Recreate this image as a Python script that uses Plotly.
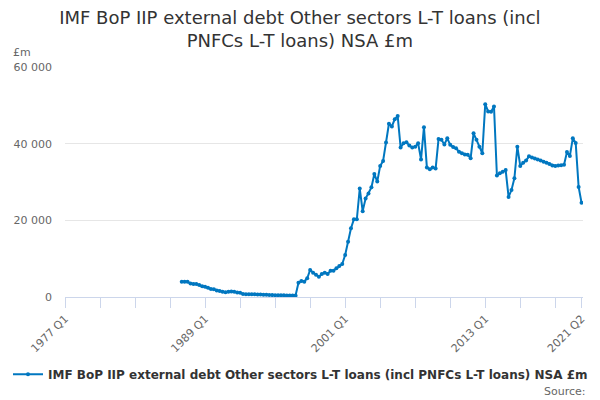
import plotly.graph_objects as go

# quarterly categories 1977 Q1 .. 2021 Q2
quarters = []
for yr in range(1977, 2022):
    for q in range(1, 5):
        quarters.append(f"{yr} Q{q}")
quarters = quarters[:quarters.index("2021 Q2") + 1]

first_quarter = "1987 Q1"

# £m, 1987 Q1 .. 2021 Q2
debt_m = [
    4000, 4000, 4000, 3500, 3400, 3400, 3100, 2800, 2700, 2400,
    2100, 2000, 1700, 1550, 1400, 1250, 1400, 1450, 1350, 1200,
    1100, 800, 700, 700, 700, 700, 650, 650, 600, 600,
    550, 500, 450, 450, 450, 450, 400, 400, 400, 400,
    3700, 4200, 4000, 4900, 7050, 6350, 5800, 5300, 6000, 6350,
    6000, 6870, 6870, 7480, 8090, 8610, 10960, 14440, 17920, 20270,
    20270, 28300, 22400, 25700, 27000, 28600, 32100, 30100, 34200, 35500,
    40300, 45200, 44500, 46400, 47200, 39000, 40100, 40400, 39500, 39000,
    39200, 40100, 35900, 44300, 33800, 33300, 33800, 33500, 41200, 41000,
    39800, 41400, 39700, 39100, 38800, 37900, 37500, 37200, 37100, 36200,
    42700, 41000, 39200, 37500, 50300, 48400, 48300, 49700, 31700, 32300,
    32700, 33100, 26100, 27900, 31000, 39200, 34200, 35000, 35600, 36700,
    36400, 36100, 35900, 35600, 35300, 35000, 34700, 34300, 34200, 34300,
    34400, 34500, 37800, 36800, 41400, 40200, 28700, 24600,
]

labelled = ["1977 Q1", "1989 Q1", "2001 Q1", "2013 Q1", "2021 Q2"]
series_name = "IMF BoP IIP external debt Other sectors L-T loans (incl PNFCs L-T loans) NSA £m"

start = quarters.index(first_quarter)
y_vals = [None] * start + debt_m

tick_q = quarters[::12] + [quarters[-1]]
tick_txt = [q if q in labelled else "" for q in tick_q]

fig = go.Figure(go.Scatter(
    x=quarters,
    y=y_vals,
    mode="lines+markers",
    name=series_name,
    line=dict(color="#0077c0", width=2),
    marker=dict(color="#0077c0", size=4),
))

# the page body adds an 8px margin, so size the figure to what is visible
fig.update_layout(
    width=592, height=392,
    margin=dict(l=57, r=17, t=59, b=103, autoexpand=False),
    paper_bgcolor="white", plot_bgcolor="white",
    font=dict(family="DejaVu Sans", color="#666666"),
    separators=". ",
    title=dict(
        text="IMF BoP IIP external debt Other sectors L-T loans (incl<br>PNFCs L-T loans) NSA £m",
        x=0.493, xanchor="center", xref="container",
        y=0.959, yanchor="top", yref="container",
        font=dict(size=18, color="#333333"),
    ),
    showlegend=True,
    legend=dict(
        orientation="h", xref="container", x=0.0, xanchor="left",
        yref="container", y=0.066, yanchor="middle",
        font=dict(size=12, color="#333333", weight="bold"),
    ),
    hovermode=False,
)

fig.update_xaxes(
    type="category", categoryorder="array", categoryarray=quarters,
    range=[0, 177.5], automargin=False,
    tickmode="array", tickvals=tick_q, ticktext=tick_txt,
    tickangle=-45, tickfont=dict(size=11, color="#666666"),
    ticks="outside", ticklen=10, tickcolor="#ccd6eb",
    showline=True, linecolor="#ccd6eb", showgrid=False, zeroline=False,
)

fig.update_yaxes(
    range=[0, 60000], dtick=20000, tickformat=",d", automargin=False,
    tickfont=dict(size=11, color="#666666"),
    showgrid=True, gridcolor="#e6e6e6", zeroline=False,
    ticklabelstandoff=12,
)

fig.add_annotation(
    text="£m", xref="paper", yref="paper", x=-0.104, y=1.065,
    xanchor="left", yanchor="middle", showarrow=False,
    font=dict(size=11, color="#666666"),
)
fig.add_annotation(
    text="Source:", xref="paper", yref="paper", x=1.0097, y=-0.409,
    xanchor="right", yanchor="middle", showarrow=False,
    font=dict(size=11, color="#666666"),
)

fig.write_html("out.html")
